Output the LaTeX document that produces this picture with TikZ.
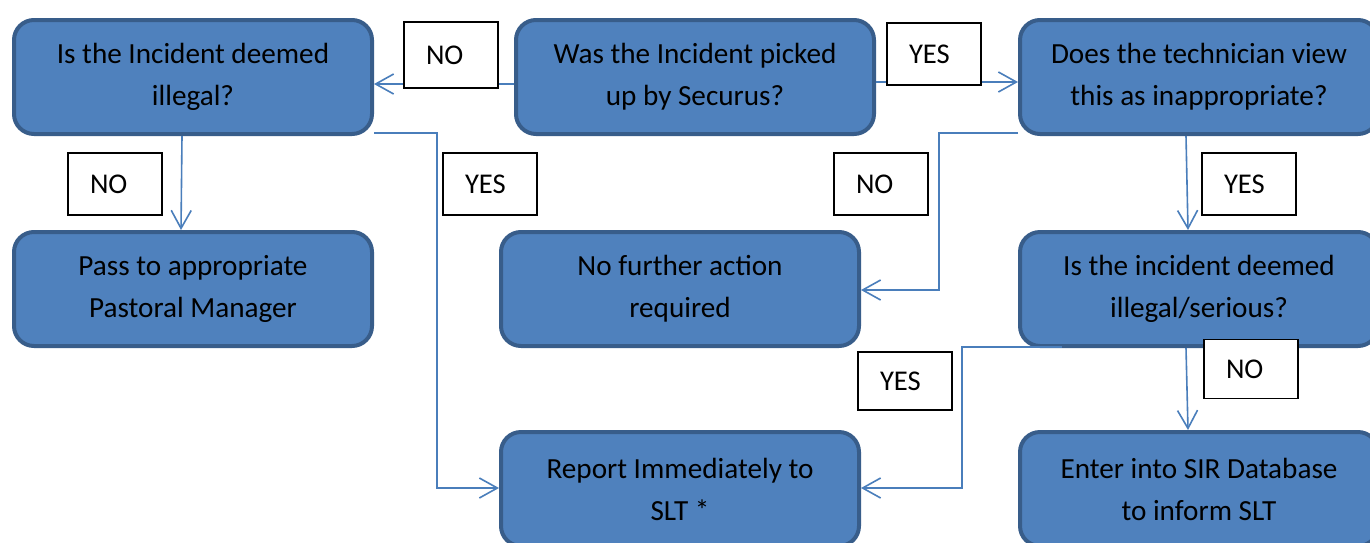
\documentclass[tikz,border=0pt]{standalone}
\usepackage{fontspec}
\setmainfont{Carlito}
\definecolor{BoxBlue}{HTML}{4F81BD}
\definecolor{BoxEdge}{HTML}{385D8A}
\definecolor{FlowBlue}{HTML}{4A7EBB}
\usetikzlibrary{arrows.meta,positioning}

\begin{document}
\begin{tikzpicture}[
  x=0.5pt,y=-0.5pt,
  stepbox/.style={draw=BoxEdge,fill=BoxBlue,line width=2pt,rounded corners=10pt,
    minimum width=179pt,minimum height=57pt,align=center,
    font=\fontsize{14.6}{21}\selectfont},
  answer/.style={draw=black,fill=white,line width=0.9pt,inner xsep=11pt,
    text width=25pt,minimum height=31pt,align=left,
    font=\fontsize{14.3}{17}\selectfont},
  flow/.style={draw=FlowBlue,line width=0.8pt,-{Straight Barb[length=9pt,width=10pt]}}
]
  \clip (0,0) rectangle (1370,542);
  \fill[white] (0,0) rectangle (1370,542);
  % decision boxes
  \node[stepbox] (illegal)  at (193,77)  {Is the Incident deemed\\illegal?};
  \node[stepbox] (securus)  at (695,77)  {Was the Incident picked\\up by Securus?};
  \node[stepbox] (techview) at (1199,77) {Does the technician view\\this as inappropriate?};
  \node[stepbox] (pastoral) at (193,289) {Pass to appropriate\\Pastoral Manager};
  \node[stepbox] (noaction) at (680,289) {No further action\\required};
  \node[stepbox] (serious)  at (1199,289) {Is the incident deemed\\illegal/serious?};
  \node[stepbox] (report)   at (680,489) {Report Immediately to\\SLT *};
  \node[stepbox] (sirdb)    at (1199,489) {Enter into SIR Database\\to inform SLT};
  % connectors
  \draw[flow] ([yshift=-3.5pt]securus.west) -- ([yshift=-3.5pt]illegal.east);
  \draw[flow] ([yshift=-2.5pt]securus.east) -- ([yshift=-2.5pt]techview.west);
  \draw[flow] ([xshift=-5.5pt]illegal.south) -- ([xshift=-6pt]pastoral.north);
  \draw[flow] ([yshift=1.5pt]illegal.south east) -- ++(63,0) |- ([yshift=0.5pt]report.west);
  \draw[flow] ([yshift=1.5pt]techview.south west) -- ++(-79,0) |- ([yshift=-0.5pt]noaction.east);
  \draw[flow] ([xshift=-6.5pt]techview.south) -- ([xshift=-5.5pt]serious.north);
  \draw[flow] ([xshift=22pt,yshift=0.5pt]serious.south west) -- ++(-100,0) |- ([yshift=0.5pt]report.east);
  \draw[flow] ([xshift=-6.5pt]serious.south) -- ([xshift=-5.5pt]sirdb.north);
  % answer labels
  \node[answer,minimum height=33pt] (no1)  at (451,55)  {NO};
  \node[answer] (yes1) at (934,54)  {YES};
  \node[answer] (no2)  at (115,184) {NO};
  \node[answer] (yes2) at (490,184) {YES};
  \node[answer] (no3)  at (881,184) {NO};
  \node[answer] (yes3) at (1249,184) {YES};
  \node[answer,minimum height=29pt] (yes4) at (905,381) {YES};
  \node[answer,minimum height=29.5pt] (no4)  at (1251,369) {NO};
\end{tikzpicture}
\end{document}
